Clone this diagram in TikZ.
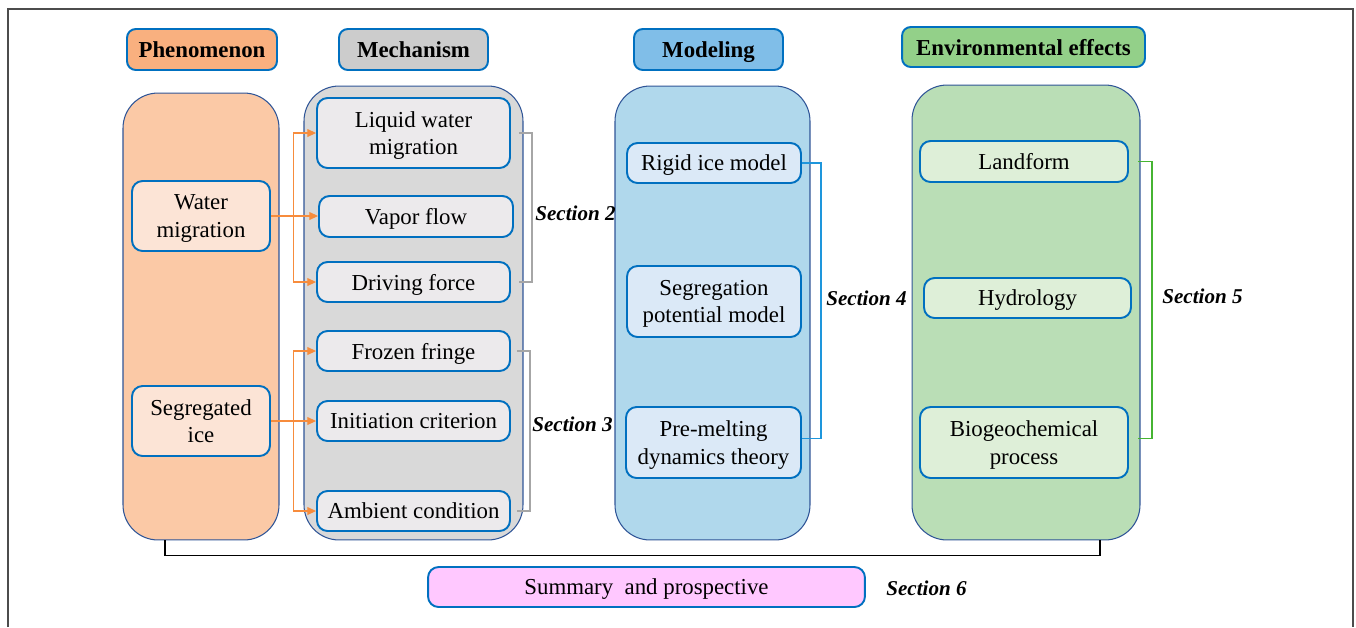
\documentclass[tikz,border=0pt]{standalone}
\usepackage{fontspec}
\setmainfont{Liberation Serif}
\usepackage{tikz}
\usetikzlibrary{arrows.meta, positioning, calc}
\definecolor{boxblue}{RGB}{0, 112, 192}
\definecolor{colblue}{RGB}{47, 85, 151}
\definecolor{phenhead}{RGB}{249, 176, 127}
\definecolor{phencol}{RGB}{251, 201, 166}
\definecolor{phenbox}{RGB}{252, 228, 214}
\definecolor{mechhead}{RGB}{204, 204, 204}
\definecolor{mechcol}{RGB}{217, 217, 217}
\definecolor{mechbox}{RGB}{236, 234, 236}
\definecolor{modhead}{RGB}{128, 190, 232}
\definecolor{modcol}{RGB}{176, 216, 236}
\definecolor{modbox}{RGB}{219, 233, 247}
\definecolor{envhead}{RGB}{147, 208, 137}
\definecolor{envcol}{RGB}{186, 222, 182}
\definecolor{envbox}{RGB}{222, 239, 216}
\definecolor{sumpink}{RGB}{255, 200, 255}
\definecolor{arrorange}{RGB}{247, 140, 60}
\definecolor{secblue}{RGB}{30, 150, 220}
\definecolor{secgreen}{RGB}{70, 180, 50}

\begin{document}
\begin{tikzpicture}[x=0.02cm, y=-0.02cm,
  head/.style={draw=boxblue, line width=1.1pt, rounded corners=5pt, minimum height=0.82cm, align=center, font=\fontsize{13}{15.5}\selectfont\bfseries, inner sep=2pt, text depth=0pt},
  col/.style={draw=colblue, line width=0.6pt, rounded corners=0.7cm, inner sep=0pt},
  ibox/.style={draw=boxblue, line width=1.1pt, rounded corners=6pt, align=center, font=\fontsize{13}{15.5}\selectfont, inner sep=2pt, text depth=0pt},
  seclabel/.style={font=\fontsize{12}{14.5}\selectfont\bfseries\itshape, anchor=west, inner sep=0pt},
  arr/.style={arrorange, line width=0.6pt, -{Triangle[length=5pt, width=4.5pt]}},
  secbr/.style={line width=0.8pt}
]
  \useasboundingbox (0,0) rectangle (1356,627);
  \draw[gray!60!black, line width=0.8pt] (8,627) -- (8,9) -- (1353,9) -- (1353,627);

  % Headers
  \node[head, fill=phenhead, minimum width=3.0cm] (h1) at (202,49.5) {Phenomenon};
  \node[head, fill=mechhead, minimum width=2.98cm] (h2) at (413.5,49.5) {Mechanism};
  \node[head, fill=modhead, minimum width=2.98cm] (h3) at (708.5,49.5) {Modeling};
  \node[head, fill=envhead, minimum width=4.86cm, minimum height=0.8cm] (h4) at (1023.5,47) {Environmental effects};

  % Columns
  \node[col, fill=phencol, minimum width=3.12cm, minimum height=8.94cm] (phcol) at (201,316.5) {};
  \node[col, fill=mechcol, minimum width=4.38cm, minimum height=9.08cm] (mecol) at (413.5,313) {};
  \node[col, fill=modcol, minimum width=3.9cm, minimum height=9.08cm] (mocol) at (712.5,313) {};
  \node[col, fill=envcol, minimum width=4.56cm, minimum height=9.1cm] (encol) at (1026,312.5) {};

  % Phenomenon
  \node[ibox, fill=phenbox, minimum width=2.76cm, minimum height=1.4cm] (wm) at (201,216) {Water\\migration};
  \node[ibox, fill=phenbox, minimum width=2.76cm, minimum height=1.4cm] (si) at (201,421) {Segregated\\ice};

  % Mechanism
  \node[ibox, fill=mechbox, minimum width=3.86cm, minimum height=1.4cm] (lw) at (413.5,133) {Liquid water\\migration};
  \node[ibox, fill=mechbox, minimum width=3.88cm, minimum height=0.82cm] (vf) at (416,216.5) {Vapor flow};
  \node[ibox, fill=mechbox, minimum width=3.86cm, minimum height=0.8cm] (df) at (413.5,282) {Driving force};
  \node[ibox, fill=mechbox, minimum width=3.86cm, minimum height=0.8cm] (ff) at (413.5,351) {Frozen fringe};
  \node[ibox, fill=mechbox, minimum width=3.86cm, minimum height=0.8cm] (ic) at (413.5,421) {Initiation criterion};
  \node[ibox, fill=mechbox, minimum width=3.86cm, minimum height=0.8cm] (ac) at (413.5,511) {Ambient condition};

  % Modeling
  \node[ibox, fill=modbox, minimum width=3.48cm, minimum height=0.8cm] (ri) at (714,163) {Rigid ice model};
  \node[ibox, fill=modbox, minimum width=3.48cm, minimum height=1.42cm] (sp) at (714,301.5) {Segregation\\potential model};
  \node[ibox, fill=modbox, minimum width=3.5cm, minimum height=1.42cm] (pm) at (713.5,442.5) {Pre-melting\\dynamics theory};

  % Environmental effects
  \node[ibox, fill=envbox, minimum width=4.16cm, minimum height=0.82cm] (lf) at (1024,161.5) {Landform};
  \node[ibox, fill=envbox, minimum width=4.14cm, minimum height=0.8cm] (hy) at (1027.5,298) {Hydrology};
  \node[ibox, fill=envbox, minimum width=4.16cm, minimum height=1.42cm] (bg) at (1024,442.5) {Biogeochemical\\process};

  % Summary
  \node[ibox, fill=sumpink, minimum width=8.74cm, minimum height=0.8cm] (sum) at (646.5,587) {Summary\ \ and prospective};

  % Phenomenon -> Mechanism
  \coordinate (j1) at ([xshift=0.46cm]wm.east);
  \coordinate (j2) at ([xshift=0.46cm]si.east);
  \draw[arr] (wm.east) -- (wm.east -| vf.west);
  \draw[arr] (j1) |- (lw.west);
  \draw[arr] (j1) |- (df.west);
  \draw[arr] (si.east) -- (ic.west);
  \draw[arr] (j2) |- (ff.west);
  \draw[arr] (j2) |- (ac.west);

  % Section brackets
  \draw[secbr, gray!70] ([xshift=0.16cm]lw.east) -- ++(0.26cm,0) coordinate (b2) |- ([xshift=0.16cm]df.east);
  \node[seclabel] (s2) at (535,213) {Section 2};
  \draw[secbr, gray!70] ([xshift=0.12cm]ff.east) -- ++(0.26cm,0) coordinate (b3) |- ([xshift=0.12cm]ac.east);
  \node[seclabel] (s3) at (532,424) {Section 3};
  \draw[secbr, secblue] (ri.east) -- ++(0.38cm,0) coordinate (b4) |- ([yshift=0.08cm]pm.east);
  \node[seclabel] (s4) at (826,298) {Section 4};
  \draw[secbr, secgreen] ([xshift=0.18cm]lf.east) -- ++(0.28cm,0) coordinate (b5) |- ([xshift=0.18cm, yshift=0.08cm]bg.east);
  \node[seclabel] (s5) at (1162,296) {Section 5};

  % Section 6
  \draw[line width=0.8pt] ([xshift=-0.72cm]phcol.south) -- ++(0,-0.3cm) -| ([xshift=1.48cm]encol.south);
  \node[seclabel] (s6) at (886,588) {Section 6};
\end{tikzpicture}
\end{document}
